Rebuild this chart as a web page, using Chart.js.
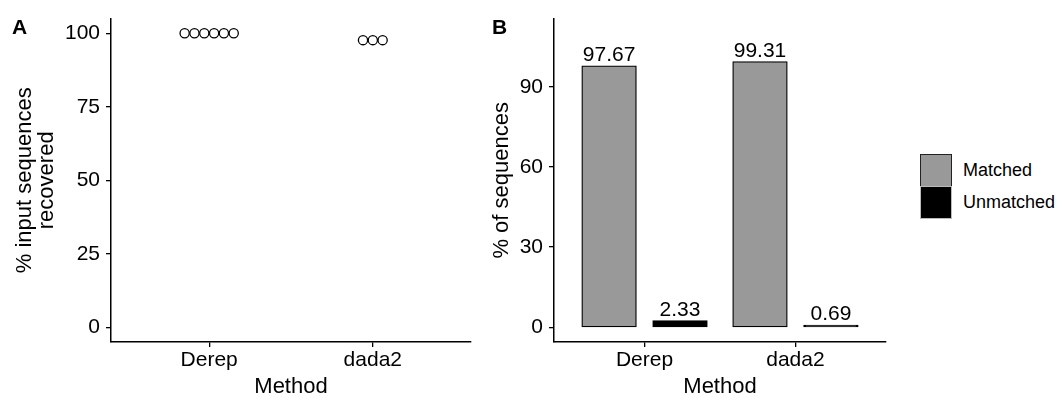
<!DOCTYPE html>
<html>
<head>
<meta charset="utf-8">
<script src="https://cdn.jsdelivr.net/npm/chart.js@4/dist/chart.umd.min.js"></script>
<style>
  body { margin: 0; background: #fff; font-family: "Liberation Sans", Arial, sans-serif; }
  #wrap { position: relative; width: 1060px; height: 398px; overflow: hidden; }
  .panel { position: absolute; top: 0; }
  .tag { position: absolute; font-weight: bold; font-size: 21px; color: #000; }
  .key { position: absolute; width: 30px; height: 31px; border: 1px solid #222; }
  .keytxt { position: absolute; font-size: 18px; color: #000; line-height: 20px; }
</style>
</head>
<body>
<div id="wrap">
  <div class="panel" style="left:0px"><canvas id="panelA" width="480" height="398"></canvas></div>
  <div class="panel" style="left:480px"><canvas id="panelB" width="420" height="398"></canvas></div>
  <div class="tag" style="left:12px; top:15px">A</div>
  <div class="tag" style="left:492px; top:15px">B</div>
  <div id="legenda"></div>
</div>
<script>
// dados
const metodos = ["Derep", "dada2"];
const recuperadoDerep = [100, 100, 100, 100, 100, 100];
const recuperadoDada2 = [97.67, 97.67, 97.67];
const ticksA = [0, 25, 50, 75, 100];

const series = ["Matched", "Unmatched"];
const matched = [97.67, 99.31];
const unmatched = [2.33, 0.69];
const ticksB = [0, 30, 60, 90];
const coresSeries = ["#999999", "#000000"];

const passoPonto = 0.06; // deslocamento do dotplot (unidades do eixo x)

Chart.defaults.font.family = '"Liberation Sans", Arial, sans-serif';
Chart.defaults.color = "#000";
Chart.defaults.animation = false;

// monta os pontos empilhados lado a lado
function pontosDot(valores, idx) {
    const n = valores.length;
    return valores.map((v, k) => ({ x: idx + 1 + (k - (n - 1) / 2) * passoPonto, y: v }));
}

function eixoComum(extra) {
    return Object.assign({
        grid: { drawOnChartArea: false, drawTicks: true, tickLength: 5, color: "#000", lineWidth: 1.3, offset: false },
        border: { display: true, color: "#000", width: 1.5 }
    }, extra);
}

// eixo x discreto (Derep / dada2) com a margem de 0.6 do ggplot
function eixoMetodo() {
    return eixoComum({
        type: "linear", min: 0.4, max: 2.6, offset: false,
        afterBuildTicks: s => { s.ticks = metodos.map((m, i) => ({ value: i + 1 })); },
        afterFit: s => { s.height = 56; },
        ticks: { color: "#000", font: { size: 21 }, padding: 1, callback: v => metodos[v - 1] },
        title: { display: true, text: "Method", font: { size: 22, lineHeight: 1 }, padding: 0 }
    });
}

// painel A
new Chart(document.getElementById("panelA"), {
    type: "scatter",
    data: {
        datasets: [
            { data: pontosDot(recuperadoDerep, 0) },
            { data: pontosDot(recuperadoDada2, 1) }
        ].map(d => Object.assign(d, {
            pointRadius: 4.6, pointBorderWidth: 1.3,
            pointBackgroundColor: "#fff", pointBorderColor: "#000"
        }))
    },
    options: {
        responsive: false,
        layout: { padding: { top: 18, right: 9, left: 0, bottom: 0 } },
        plugins: { legend: { display: false }, tooltip: { enabled: false } },
        scales: {
            x: eixoMetodo(),
            y: eixoComum({
                min: -5, max: 105,
                afterBuildTicks: s => { s.ticks = ticksA.map(v => ({ value: v })); },
                afterFit: s => { s.width = 111; },
                ticks: { color: "#000", font: { size: 21 }, padding: 6 },
                title: { display: true, text: ["% input sequences", "recovered"], font: { size: 22, lineHeight: 1.0 }, padding: { top: 14, bottom: 0 } }
            })
        }
    }
});

// rótulos em cima das barras
const rotulosBarras = {
    id: "rotulosBarras",
    afterDatasetsDraw(chart) {
        const ctx = chart.ctx;
        ctx.save();
        ctx.font = '21px "Liberation Sans", Arial, sans-serif';
        ctx.fillStyle = "#000";
        ctx.textAlign = "center";
        ctx.textBaseline = "alphabetic";
        chart.data.datasets.forEach((ds, i) => {
            chart.getDatasetMeta(i).data.forEach((bar, j) => {
                ctx.fillText(ds.data[j].y.toFixed(2), bar.x, bar.y - 5);
            });
        });
        ctx.restore();
    }
};

// painel B
new Chart(document.getElementById("panelB"), {
    type: "bar",
    data: {
        datasets: [matched, unmatched].map((vals, i) => ({
            label: series[i],
            data: vals.map((v, j) => ({ x: j + 1, y: v })),
            backgroundColor: coresSeries[i],
            borderColor: "#000",
            borderWidth: 1.3,
            borderSkipped: false,
            inflateAmount: 0.7,
            categoryPercentage: 0.94,
            barPercentage: 0.76
        }))
    },
    options: {
        responsive: false,
        layout: { padding: { top: 18, right: 14, left: 0, bottom: 0 } },
        plugins: { legend: { display: false }, tooltip: { enabled: false } },
        scales: {
            x: eixoMetodo(),
            y: eixoComum({
                min: -5.5, max: 115.5,
                afterBuildTicks: s => { s.ticks = ticksB.map(v => ({ value: v })); },
                afterFit: s => { s.width = 74; },
                ticks: { color: "#000", font: { size: 21 }, padding: 6 },
                title: { display: true, text: "% of sequences", font: { size: 22 }, padding: { top: 9, bottom: 0 } }
            })
        }
    },
    plugins: [rotulosBarras]
});

// legenda
const legenda = document.getElementById("legenda");
series.forEach((nome, i) => {
    const caixa = document.createElement("div");
    caixa.className = "key";
    caixa.style.left = "920px";
    caixa.style.top = (154 + i * 32) + "px";
    caixa.style.background = coresSeries[i];
    if (i === 1) caixa.style.borderColor = "#bbb";
    legenda.appendChild(caixa);
    const txt = document.createElement("div");
    txt.className = "keytxt";
    txt.textContent = nome;
    txt.style.left = "963px";
    txt.style.top = (160 + i * 32) + "px";
    legenda.appendChild(txt);
});
</script>
</body>
</html>
